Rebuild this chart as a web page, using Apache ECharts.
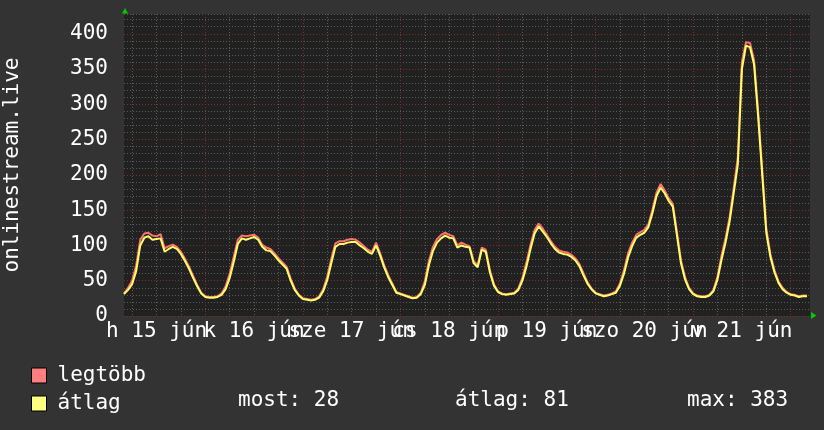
<!DOCTYPE html>
<html>
<head>
<meta charset="utf-8">
<script src="https://cdn.jsdelivr.net/npm/echarts@6/dist/echarts.min.js"></script>
<style>
html, body { margin: 0; padding: 0; background: #333333; }
#chart { width: 824px; height: 430px; }
</style>
</head>
<body>
<div id="chart"></div>
<script>
// hours counted from 15 jún 00:00, one reading per hour
const startHour = 4
const avgValues = [
  31, 37, 45, 64, 100, 111, 113, 108, 109, 110, 91, 95, 98, 95, 88, 78, 67, 54, 42, 32,
  27, 26, 26, 27, 30, 38, 54, 77, 102, 110, 108, 110, 112, 108, 98, 93, 92, 86, 79, 73, 67, 50, 37, 29,
  24, 23, 22, 23, 26, 35, 51, 75, 98, 102, 102, 104, 105, 105, 100, 96, 91, 88, 100, 86, 69, 55, 44, 33,
  31, 29, 27, 25, 26, 31, 44, 72, 92, 104, 110, 114, 111, 110, 97, 100, 98, 97, 75, 69, 94, 91, 62, 43,
  34, 31, 30, 31, 32, 37, 50, 70, 95, 117, 127, 120, 112, 103, 95, 90, 88, 87, 84, 79, 71, 58, 46, 38,
  32, 30, 28, 29, 31, 33, 43, 60, 83, 99, 111, 115, 118, 126, 146, 170, 182, 174, 163, 155, 115, 75, 52, 38,
  31, 28, 27, 27, 29, 35, 52, 80, 105, 135, 175, 215, 350, 383, 381, 356, 282, 200, 118, 84, 62, 47, 38, 33,
  30, 29, 27, 28, 28
]
const maxValues = [
  32, 40, 50, 72, 108, 117, 118, 114, 113, 116, 96, 99, 101, 98, 91, 81, 70, 57, 44, 33,
  28, 27, 27, 28, 32, 42, 60, 84, 108, 114, 113, 114, 115, 111, 101, 97, 95, 89, 82, 76, 70, 53, 39, 30,
  25, 24, 23, 24, 28, 38, 56, 81, 103, 106, 106, 108, 109, 108, 104, 99, 94, 91, 104, 89, 72, 58, 46, 34,
  32, 30, 28, 26, 27, 33, 49, 78, 98, 109, 115, 118, 115, 113, 100, 104, 101, 99, 78, 72, 97, 94, 65, 45,
  35, 32, 31, 32, 33, 39, 54, 76, 101, 122, 131, 124, 115, 106, 98, 93, 91, 90, 87, 82, 74, 61, 48, 39,
  33, 31, 29, 30, 32, 35, 46, 65, 89, 104, 115, 119, 122, 130, 151, 175, 187, 178, 167, 159, 120, 79, 55, 40,
  32, 29, 28, 28, 30, 37, 56, 86, 111, 141, 182, 225, 360, 388, 387, 362, 290, 207, 124, 88, 65, 49, 40, 34,
  31, 30, 28, 29, 29
]
const dayLabels = ['h 15 jún', 'k 16 jún', 'sze 17 jún', 'cs 18 jún', 'p 19 jún', 'szo 20 jún', 'v 21 jún']
const labelHours = [12, 36, 60, 84, 108, 132, 156]
const yLabels = [0, 50, 100, 150, 200, 250, 300, 350, 400]
const seriesNames = ['legtöbb', 'átlag']
const statTexts = ['most: 28', 'átlag: 81', 'max: 383']

const FONT = 'DejaVu Sans Mono'
const GREY = '#5a5a5a'
const RED = '#7a2e2e'

// grid every 6 hours, red at midnight
const gridHours = []
for (let h = 6; h <= 168; h += 6) gridHours.push(h)

const toPoints = values => values.map((v, i) => [startHour + i, v])
const dayLabel = v => dayLabels[labelHours.indexOf(v)] || ''

// the day labels overlap each other, so odd and even days go on two stacked axes
const labelAxis = (values, extra) => Object.assign({
  type: 'value',
  min: 4,
  max: 172.75,
  position: 'bottom',
  axisLine: { show: false },
  axisTick: { show: false },
  splitLine: { show: false },
  axisLabel: {
    customValues: values,
    showMinLabel: true,
    showMaxLabel: true,
    hideOverlap: false,
    color: '#fff',
    fontFamily: FONT,
    fontSize: 21,
    margin: 5,
    formatter: dayLabel
  }
}, extra)

const chart = echarts.init(document.getElementById('chart'))
const option = {
  backgroundColor: '#333333',
  animation: false,
  grid: {
    left: 124,
    right: 14,
    top: 14,
    bottom: 114,
    outerBoundsMode: 'none',
    containLabel: false,
    show: true,
    backgroundColor: '#212121',
    borderWidth: 0
  },
  legend: {
    orient: 'vertical',
    left: 31,
    top: 365,
    padding: 0,
    icon: 'rect',
    itemWidth: 15,
    itemHeight: 15,
    itemGap: 7,
    data: seriesNames,
    itemStyle: { borderColor: '#000', borderWidth: 1 },
    textStyle: { color: '#fff', fontFamily: FONT, fontSize: 21, padding: [0, 0, 0, 6] }
  },
  xAxis: [
    labelAxis(labelHours.filter((h, i) => i % 2 === 0), {
      axisTick: { show: false, customValues: gridHours },
      splitLine: {
        show: true,
        lineStyle: { color: [GREY, GREY, GREY, RED], type: [1, 2], width: 1 }
      }
    }),
    labelAxis(labelHours.filter((h, i) => i % 2 === 1), { offset: 0 })
  ],
  yAxis: {
    type: 'value',
    min: 0,
    max: 428,
    interval: 10,
    name: 'onlinestream.live',
    nameLocation: 'middle',
    nameRotate: 90,
    nameGap: 101,
    nameTextStyle: { color: '#fff', fontFamily: FONT, fontSize: 21 },
    axisLine: { show: false },
    axisTick: { show: false },
    splitLine: {
      show: true,
      lineStyle: { color: [RED, GREY, GREY, GREY, GREY], type: [1, 2], width: 1 }
    },
    axisLabel: {
      customValues: yLabels,
      color: '#fff',
      fontFamily: FONT,
      fontSize: 21,
      margin: 16
    }
  },
  series: [
    {
      name: seriesNames[0],
      type: 'line',
      data: toPoints(maxValues),
      showSymbol: false,
      itemStyle: { color: '#ff7f7f' },
      lineStyle: { color: '#ff7070', width: 2 }
    },
    {
      name: seriesNames[1],
      type: 'line',
      data: toPoints(avgValues),
      showSymbol: false,
      itemStyle: { color: '#ffff80' },
      lineStyle: { color: '#ffff66', width: 2 }
    }
  ],
  graphic: [
    // axis arrows
    { type: 'polygon', shape: { points: [[122, 13.5], [125, 8], [128, 13.5]] }, style: { fill: '#00cc00' } },
    { type: 'polygon', shape: { points: [[811, 312], [816.5, 315.5], [811, 319]] }, style: { fill: '#00cc00' } },
    // current / average / max on the átlag row
    { type: 'text', left: 238, top: 390, style: { text: statTexts[0], fill: '#fff', font: '21px "DejaVu Sans Mono"' } },
    { type: 'text', left: 455, top: 390, style: { text: statTexts[1], fill: '#fff', font: '21px "DejaVu Sans Mono"' } },
    { type: 'text', left: 687, top: 390, style: { text: statTexts[2], fill: '#fff', font: '21px "DejaVu Sans Mono"' } }
  ]
}
chart.setOption(option)
</script>
</body>
</html>
